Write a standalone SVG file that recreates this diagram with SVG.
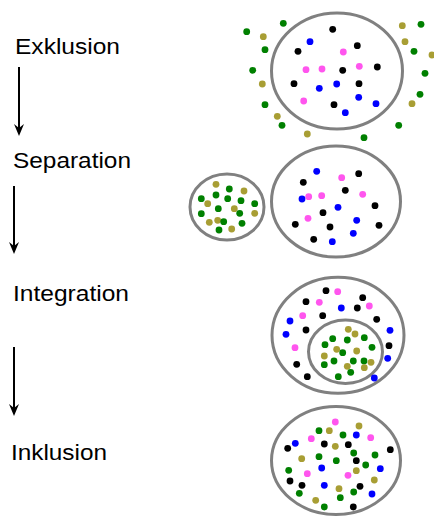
<svg xmlns="http://www.w3.org/2000/svg" width="434" height="517" viewBox="0 0 434 517">
<style>
.lbl{font-family:"Liberation Sans",Arial,sans-serif;font-size:22px;fill:#000}
.ring{fill:none;stroke:#808080;stroke-width:3}
.k{fill:#000}.b{fill:#0000ff}.p{fill:#ff55ee}.g{fill:#008000}.o{fill:#a89e34}
.arr{stroke:#000;stroke-width:2;fill:none}
.head{fill:#000}
</style>
<rect width="434" height="517" fill="#fff"/>

<g id="label-exklusion"><text class="lbl" x="15" y="54" textLength="105" lengthAdjust="spacingAndGlyphs">Exklusion</text></g>
<g id="label-separation"><text class="lbl" x="13" y="168" textLength="118" lengthAdjust="spacingAndGlyphs">Separation</text></g>
<g id="label-integration"><text class="lbl" x="13" y="301" textLength="116" lengthAdjust="spacingAndGlyphs">Integration</text></g>
<g id="label-inklusion"><text class="lbl" x="11" y="460" textLength="96" lengthAdjust="spacingAndGlyphs">Inklusion</text></g>

<g id="connectors">
<line class="arr" x1="19" y1="67" x2="19" y2="128"/>
<path class="head" d="M14,124 L19,128 L24,124 L19,136 Z"/>
<line class="arr" x1="14" y1="186" x2="14" y2="246"/>
<path class="head" d="M9,242 L14,246 L19,242 L14,254 Z"/>
<line class="arr" x1="14" y1="347" x2="14" y2="408"/>
<path class="head" d="M9,404 L14,408 L19,404 L14,416 Z"/>
</g>

<g id="stage-exklusion">
<ellipse class="ring" cx="337" cy="71" rx="65.5" ry="58"/>
<circle class="k" cx="332.7" cy="29.3" r="3.4"/>
<circle class="b" cx="310" cy="41.7" r="3.4"/>
<circle class="k" cx="357.3" cy="45.7" r="3.4"/>
<circle class="k" cx="298" cy="51.3" r="3.4"/>
<circle class="p" cx="343.3" cy="52" r="3.4"/>
<circle class="p" cx="306" cy="69.7" r="3.4"/>
<circle class="p" cx="322" cy="69" r="3.4"/>
<circle class="k" cx="342.7" cy="70.3" r="3.4"/>
<circle class="p" cx="359.3" cy="66.3" r="3.4"/>
<circle class="k" cx="377.3" cy="67" r="3.4"/>
<circle class="k" cx="294" cy="83.7" r="3.4"/>
<circle class="b" cx="319.3" cy="88.3" r="3.4"/>
<circle class="b" cx="336.7" cy="84" r="3.4"/>
<circle class="k" cx="359" cy="83.7" r="3.4"/>
<circle class="b" cx="358.7" cy="97.3" r="3.4"/>
<circle class="b" cx="376" cy="103.7" r="3.4"/>
<circle class="p" cx="303.7" cy="101" r="3.4"/>
<circle class="k" cx="334" cy="104.7" r="3.4"/>
<circle class="b" cx="345.3" cy="112.7" r="3.4"/>
<circle class="g" cx="246.7" cy="31.7" r="3.4"/>
<circle class="g" cx="283.3" cy="23.3" r="3.4"/>
<circle class="o" cx="263.3" cy="36.7" r="3.4"/>
<circle class="g" cx="265" cy="49.7" r="3.4"/>
<circle class="g" cx="252.7" cy="70.3" r="3.4"/>
<circle class="o" cx="262.3" cy="84" r="3.4"/>
<circle class="g" cx="265" cy="104.7" r="3.4"/>
<circle class="o" cx="277.3" cy="116.3" r="3.4"/>
<circle class="g" cx="282" cy="125.3" r="3.4"/>
<circle class="o" cx="307.3" cy="134" r="3.4"/>
<circle class="g" cx="364" cy="137.7" r="3.4"/>
<circle class="g" cx="398.7" cy="125.3" r="3.4"/>
<circle class="o" cx="412" cy="103.7" r="3.4"/>
<circle class="g" cx="420" cy="94.3" r="3.4"/>
<circle class="g" cx="425" cy="73.3" r="3.4"/>
<circle class="o" cx="432" cy="55" r="3.4"/>
<circle class="g" cx="414" cy="51.3" r="3.4"/>
<circle class="o" cx="405" cy="41.7" r="3.4"/>
<circle class="o" cx="402.3" cy="25.7" r="3.4"/>
<circle class="g" cx="421" cy="24.3" r="3.4"/>
</g>

<g id="stage-separation">
<ellipse class="ring" cx="227" cy="207" rx="37" ry="33"/>
<circle class="o" cx="216" cy="184.3" r="3.4"/>
<circle class="g" cx="229.3" cy="189" r="3.4"/>
<circle class="o" cx="244" cy="191" r="3.4"/>
<circle class="g" cx="216" cy="195" r="3.4"/>
<circle class="g" cx="201.3" cy="198.7" r="3.4"/>
<circle class="g" cx="227.7" cy="198.7" r="3.4"/>
<circle class="g" cx="241" cy="200.7" r="3.4"/>
<circle class="o" cx="207.7" cy="203.7" r="3.4"/>
<circle class="g" cx="254.7" cy="203.7" r="3.4"/>
<circle class="g" cx="218.3" cy="208.7" r="3.4"/>
<circle class="o" cx="234.3" cy="208.7" r="3.4"/>
<circle class="g" cx="201.3" cy="213.7" r="3.4"/>
<circle class="g" cx="239.7" cy="213.3" r="3.4"/>
<circle class="o" cx="254.7" cy="213.3" r="3.4"/>
<circle class="o" cx="209.3" cy="222.3" r="3.4"/>
<circle class="o" cx="217.7" cy="220.3" r="3.4"/>
<circle class="g" cx="223.7" cy="221.7" r="3.4"/>
<circle class="g" cx="242" cy="223.3" r="3.4"/>
<circle class="g" cx="219" cy="230" r="3.4"/>
<circle class="o" cx="231.7" cy="229" r="3.4"/>
<ellipse class="ring" cx="336" cy="201.5" rx="64.5" ry="55.5"/>
<circle class="b" cx="316.7" cy="171.3" r="3.4"/>
<circle class="p" cx="341.7" cy="177.7" r="3.4"/>
<circle class="k" cx="358.7" cy="173.7" r="3.4"/>
<circle class="k" cx="303.3" cy="182.3" r="3.4"/>
<circle class="k" cx="345.3" cy="190.3" r="3.4"/>
<circle class="p" cx="308.7" cy="196.7" r="3.4"/>
<circle class="p" cx="321.7" cy="195.7" r="3.4"/>
<circle class="b" cx="302" cy="199" r="3.4"/>
<circle class="p" cx="362.7" cy="194.3" r="3.4"/>
<circle class="k" cx="375" cy="205.7" r="3.4"/>
<circle class="b" cx="338" cy="207.3" r="3.4"/>
<circle class="k" cx="323" cy="212.7" r="3.4"/>
<circle class="p" cx="308" cy="218.3" r="3.4"/>
<circle class="b" cx="356.7" cy="220.3" r="3.4"/>
<circle class="k" cx="295.3" cy="224.3" r="3.4"/>
<circle class="k" cx="330" cy="227" r="3.4"/>
<circle class="k" cx="379" cy="225.3" r="3.4"/>
<circle class="b" cx="353.3" cy="233.3" r="3.4"/>
<circle class="k" cx="313.7" cy="239.3" r="3.4"/>
<circle class="b" cx="332.3" cy="241.7" r="3.4"/>
</g>

<g id="stage-integration">
<ellipse class="ring" cx="338" cy="335.3" rx="66" ry="58"/>
<ellipse class="ring" cx="345.5" cy="351.7" rx="37" ry="31.7"/>
<circle class="k" cx="326" cy="290.7" r="3.4"/>
<circle class="p" cx="337.7" cy="291.7" r="3.4"/>
<circle class="k" cx="306" cy="301.7" r="3.4"/>
<circle class="p" cx="319.3" cy="302.3" r="3.4"/>
<circle class="k" cx="362.7" cy="297.7" r="3.4"/>
<circle class="b" cx="341.3" cy="308" r="3.4"/>
<circle class="k" cx="357.3" cy="308" r="3.4"/>
<circle class="p" cx="369.3" cy="306" r="3.4"/>
<circle class="p" cx="302.7" cy="315.7" r="3.4"/>
<circle class="k" cx="322.7" cy="315.7" r="3.4"/>
<circle class="b" cx="290" cy="321" r="3.4"/>
<circle class="k" cx="376.7" cy="319.3" r="3.4"/>
<circle class="k" cx="306" cy="330" r="3.4"/>
<circle class="b" cx="286" cy="334.3" r="3.4"/>
<circle class="b" cx="390" cy="330.3" r="3.4"/>
<circle class="p" cx="295" cy="347.7" r="3.4"/>
<circle class="k" cx="389" cy="345.7" r="3.4"/>
<circle class="b" cx="387.7" cy="358.3" r="3.4"/>
<circle class="k" cx="296.7" cy="364.3" r="3.4"/>
<circle class="k" cx="307.3" cy="376.7" r="3.4"/>
<circle class="b" cx="374.3" cy="378" r="3.4"/>
<circle class="o" cx="348.3" cy="329.3" r="3.4"/>
<circle class="o" cx="355" cy="334" r="3.4"/>
<circle class="g" cx="332.7" cy="338.7" r="3.4"/>
<circle class="g" cx="347.3" cy="340" r="3.4"/>
<circle class="g" cx="364.3" cy="337.7" r="3.4"/>
<circle class="g" cx="325" cy="344.7" r="3.4"/>
<circle class="o" cx="336.7" cy="349.3" r="3.4"/>
<circle class="g" cx="342.7" cy="352.7" r="3.4"/>
<circle class="o" cx="356.7" cy="351" r="3.4"/>
<circle class="g" cx="372" cy="347.3" r="3.4"/>
<circle class="o" cx="324.3" cy="356" r="3.4"/>
<circle class="g" cx="334" cy="361" r="3.4"/>
<circle class="g" cx="353.3" cy="361" r="3.4"/>
<circle class="g" cx="364" cy="361" r="3.4"/>
<circle class="o" cx="371" cy="362.3" r="3.4"/>
<circle class="g" cx="324.3" cy="364.7" r="3.4"/>
<circle class="o" cx="347.3" cy="366.3" r="3.4"/>
<circle class="o" cx="364.3" cy="367.7" r="3.4"/>
<circle class="g" cx="338.3" cy="376.7" r="3.4"/>
<circle class="g" cx="350.7" cy="372.3" r="3.4"/>
</g>

<g id="stage-inklusion">
<ellipse class="ring" cx="336" cy="460.5" rx="64.5" ry="54"/>
<circle class="p" cx="335.3" cy="422" r="3.4"/>
<circle class="o" cx="359" cy="426" r="3.4"/>
<circle class="g" cx="319" cy="430.7" r="3.4"/>
<circle class="o" cx="329.3" cy="430.7" r="3.4"/>
<circle class="g" cx="343" cy="435" r="3.4"/>
<circle class="b" cx="356.3" cy="435" r="3.4"/>
<circle class="p" cx="370.7" cy="437.7" r="3.4"/>
<circle class="p" cx="311.3" cy="438.7" r="3.4"/>
<circle class="b" cx="295.3" cy="443.3" r="3.4"/>
<circle class="k" cx="324.3" cy="444" r="3.4"/>
<circle class="o" cx="335.3" cy="446.3" r="3.4"/>
<circle class="k" cx="348.3" cy="444.7" r="3.4"/>
<circle class="k" cx="287.7" cy="448.3" r="3.4"/>
<circle class="k" cx="390.3" cy="449.7" r="3.4"/>
<circle class="g" cx="353.7" cy="453" r="3.4"/>
<circle class="g" cx="375" cy="455" r="3.4"/>
<circle class="o" cx="301.7" cy="458.7" r="3.4"/>
<circle class="g" cx="319" cy="456.7" r="3.4"/>
<circle class="g" cx="336.3" cy="460.7" r="3.4"/>
<circle class="k" cx="356.3" cy="460.7" r="3.4"/>
<circle class="g" cx="365.7" cy="465" r="3.4"/>
<circle class="b" cx="321.7" cy="468" r="3.4"/>
<circle class="o" cx="356.3" cy="470.7" r="3.4"/>
<circle class="b" cx="380.3" cy="468.7" r="3.4"/>
<circle class="g" cx="288.7" cy="470.3" r="3.4"/>
<circle class="p" cx="307.3" cy="473.7" r="3.4"/>
<circle class="p" cx="348" cy="475.3" r="3.4"/>
<circle class="o" cx="374.3" cy="480" r="3.4"/>
<circle class="k" cx="290" cy="481" r="3.4"/>
<circle class="k" cx="302" cy="485.3" r="3.4"/>
<circle class="b" cx="324.3" cy="485.3" r="3.4"/>
<circle class="k" cx="360" cy="486.3" r="3.4"/>
<circle class="o" cx="339" cy="488.7" r="3.4"/>
<circle class="g" cx="353.7" cy="492" r="3.4"/>
<circle class="g" cx="299.3" cy="493.3" r="3.4"/>
<circle class="b" cx="372" cy="494" r="3.4"/>
<circle class="g" cx="340.3" cy="497.7" r="3.4"/>
<circle class="o" cx="315.7" cy="500.3" r="3.4"/>
<circle class="g" cx="324.3" cy="507" r="3.4"/>
<circle class="k" cx="353.3" cy="507" r="3.4"/>
</g>
</svg>
